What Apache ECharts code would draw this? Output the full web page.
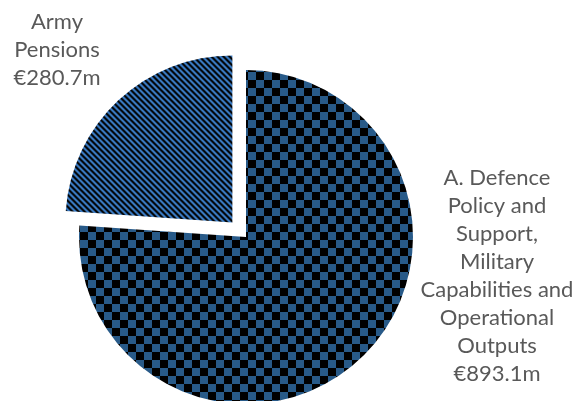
<!DOCTYPE html>
<html>
<head>
<meta charset="utf-8">
<script src="https://cdn.jsdelivr.net/npm/echarts@6/dist/echarts.min.js"></script>
<style>
  html, body { margin: 0; padding: 0; background: #ffffff; }
  #chart { width: 574px; height: 401px; }
</style>
</head>
<body>
<div id="chart"></div>
<script>
// Vote breakdown (€ million)
const categories = [
  'A. Defence\nPolicy and\nSupport,\nMilitary\nCapabilities and\nOperational\nOutputs',
  'Army\nPensions'
];
const values = [893.1, 280.7];

// Checkerboard fill
function checkerPattern(cell, c1, c2) {
  const cv = document.createElement('canvas');
  cv.width = cell * 2; cv.height = cell * 2;
  const ctx = cv.getContext('2d');
  ctx.fillStyle = c2; ctx.fillRect(0, 0, cell * 2, cell * 2);
  ctx.fillStyle = c1;
  ctx.fillRect(0, 0, cell, cell);
  ctx.fillRect(cell, cell, cell, cell);
  return cv;
}

// Downward diagonal stripes
function stripePattern(period, on, c1, c2) {
  const cv = document.createElement('canvas');
  cv.width = period; cv.height = period;
  const ctx = cv.getContext('2d');
  const img = ctx.createImageData(period, period);
  const hex = c => [parseInt(c.slice(1, 3), 16), parseInt(c.slice(3, 5), 16), parseInt(c.slice(5, 7), 16)];
  const a = hex(c1), b = hex(c2);
  for (let y = 0; y < period; y++) {
    for (let x = 0; x < period; x++) {
      const k = (((x - y) % period) + period) % period;
      const col = k < on ? a : b;
      const i = (y * period + x) * 4;
      img.data[i] = col[0]; img.data[i + 1] = col[1]; img.data[i + 2] = col[2]; img.data[i + 3] = 255;
    }
  }
  ctx.putImageData(img, 0, 0);
  return cv;
}

const fills = [
  { image: checkerPattern(8, '#285a88', '#000000'), repeat: 'repeat' },
  { image: stripePattern(6, 3, '#3d80cc', '#000000'), repeat: 'repeat' }
];

// Label anchor points (centre of each text block)
const labelSpots = [
  { x: 497, y: 276 },
  { x: 57, y: 50 }
];

const labelStyle = {
  fontFamily: 'Lato',
  fontSize: 22,
  lineHeight: 28,
  fill: '#595959',
  align: 'center',
  verticalAlign: 'middle'
};

const chart = echarts.init(document.getElementById('chart'), null, { renderer: 'canvas' });
chart.setOption({
  animation: false,
  graphic: values.map((v, i) => ({
    type: 'text',
    x: labelSpots[i].x,
    y: labelSpots[i].y,
    silent: true,
    style: Object.assign({ text: categories[i] + '\n€' + v.toFixed(1) + 'm' }, labelStyle)
  })),
  series: [{
    type: 'pie',
    center: [246, 237],
    radius: 167,
    startAngle: 90,
    clockwise: true,
    selectedMode: 'single',
    selectedOffset: 20,
    silent: true,
    label: { show: false },
    labelLine: { show: false },
    data: values.map((v, i) => ({
      name: categories[i],
      value: v,
      selected: i === 1,
      itemStyle: { color: fills[i] }
    }))
  }]
});
</script>
</body>
</html>
